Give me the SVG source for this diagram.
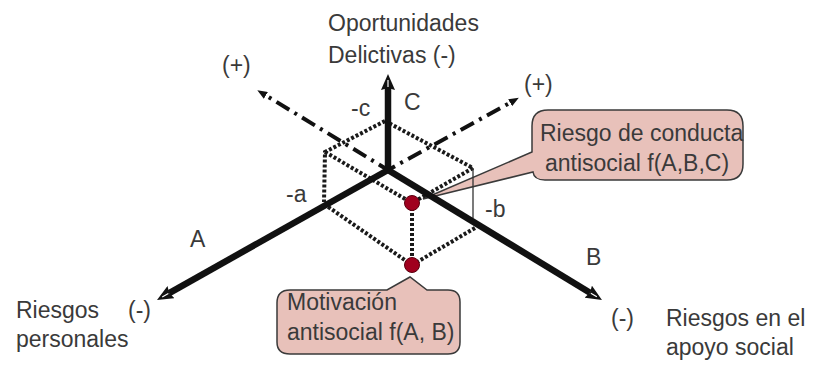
<svg xmlns="http://www.w3.org/2000/svg" width="819" height="366" viewBox="0 0 819 366">
<style>
text{font-family:"Liberation Sans",Arial,sans-serif;font-size:23px;fill:#3a3a3a}
.axis{stroke:#111;stroke-width:6.5;fill:none}
.dd{stroke:#111;stroke-width:4;fill:none;stroke-dasharray:3 6 15 6}
.dot{stroke:#1a1a1a;stroke-width:4;fill:none;stroke-dasharray:3 2}
.thin{stroke:#333;stroke-width:1.3;fill:none}
.callout{fill:#e8c1ba;stroke:#3a3a3a;stroke-width:1.5}
.pt{fill:#a0001e;stroke:#5a0010;stroke-width:1}
</style>
<defs>
<marker id="big" markerUnits="userSpaceOnUse" viewBox="0 0 16 14" markerWidth="16" markerHeight="14" refX="2" refY="7" orient="auto">
<path d="M0,0 L16,7 L0,14 L2,7 Z" fill="#111"/>
<path d="M3,7 L10,7" stroke="#fff" stroke-width="1.2"/>
</marker>
<marker id="small" markerUnits="userSpaceOnUse" viewBox="0 0 10 8" markerWidth="10" markerHeight="8" refX="1" refY="4" orient="auto">
<path d="M0,0 L10,4 L0,8 Z" fill="#111"/>
</marker>
</defs>

<g id="callout-conducta">
<path class="callout" d="M548,110 H727 Q743,110 743,126 V164 Q743,180 727,180 H545 Q534,180 533,172 L423,199 L532,152 V126 Q532,110 548,110 Z"/>
<text x="540" y="141">Riesgo de conducta</text>
<text x="545" y="171">antisocial f(A,B,C)</text>
</g>

<g id="callout-motivacion">
<path class="callout" d="M290,290 H387 L410,277 L427,290 H448 Q460,290 460,302 V342 Q460,354 448,354 H290 Q277,354 277,342 V303 Q277,290 290,290 Z"/>
<text x="287" y="310">Motivación</text>
<text x="287" y="340">antisocial f(A, B)</text>
</g>

<g id="connectors">
<path class="dd" d="M268.8,97.2 L388,170"/>
<path class="dd" d="M508,103.9 L388,170"/>
<path class="dot" d="M385,121 L325,152 L324,202"/>
<path class="dot" d="M385,121 L473,168"/>
<path class="dot" d="M325,152 L412,203"/>
<path class="dot" d="M473,168 L412,203"/>
<path class="dot" d="M412,203 L412,265"/>
<path class="dot" d="M324,204 L412,265"/>
<path class="dot" d="M475,228 L412,265"/>
<path class="thin" d="M473,168 L473,218"/>
<line class="axis" x1="388" y1="172" x2="388" y2="88" marker-end="url(#big)"/>
<line class="axis" x1="388" y1="170" x2="169.2" y2="293.1" marker-end="url(#big)"/>
<line class="axis" x1="388" y1="170" x2="590" y2="292.7" marker-end="url(#big)"/>
<path d="M268.8,97.2 L265,94.9" stroke="none" marker-end="url(#small)"/>
<path d="M508,103.9 L511,102.2" stroke="none" marker-end="url(#small)"/>
</g>

<g id="point-abc"><circle class="pt" cx="412" cy="203" r="7.5"/></g>
<g id="point-ab"><circle class="pt" cx="412" cy="265" r="7.5"/></g>

<g id="label-c-axis">
<text x="328" y="31">Oportunidades</text>
<text x="328" y="63">Delictivas (-)</text>
</g>
<g id="label-plus-left"><text x="222" y="73">(+)</text></g>
<g id="label-plus-right"><text x="524" y="92">(+)</text></g>
<g id="label-minus-c"><text x="351" y="116">-c</text></g>
<g id="label-C"><text x="404" y="110">C</text></g>
<g id="label-minus-a"><text x="286" y="202">-a</text></g>
<g id="label-A"><text x="190" y="247">A</text></g>
<g id="label-minus-b"><text x="485" y="217">-b</text></g>
<g id="label-B"><text x="586" y="265">B</text></g>
<g id="label-a-axis">
<text x="16" y="318">Riesgos</text>
<text x="128" y="318">(-)</text>
<text x="16" y="347">personales</text>
</g>
<g id="label-b-axis">
<text x="611" y="326">(-)</text>
<text x="666" y="326">Riesgos en el</text>
<text x="666" y="355">apoyo social</text>
</g>
</svg>
